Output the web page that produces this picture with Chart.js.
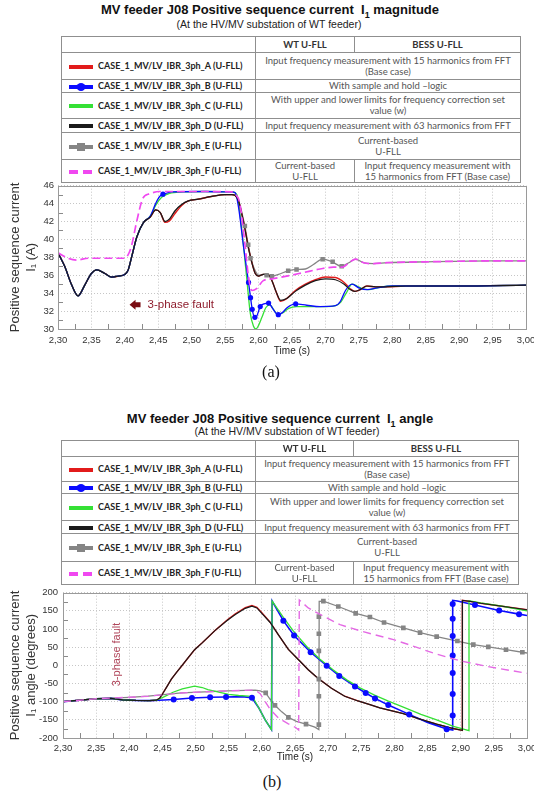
<!DOCTYPE html>
<html>
<head>
<meta charset="utf-8">
<script src="https://cdn.jsdelivr.net/npm/chart.js@4.4.1/dist/chart.umd.min.js"></script>
<style>
  body { margin: 0; width: 534px; height: 796px; overflow: hidden; background: #fff; position: relative; font-family: "Liberation Sans", Arial, sans-serif; }
  .title { position: absolute; transform: translateX(-50%); font-weight: bold; font-size: 13px; color: #111; white-space: nowrap; }
  .title sub { font-size: 9px; }
  .sub { position: absolute; transform: translateX(-50%); font-size: 10.5px; color: #222; white-space: nowrap; }
  .cap { position: absolute; transform: translateX(-50%); font-family: "Liberation Serif", "Times New Roman", serif; font-size: 16px; color: #111; }
  table.leg { position: absolute; border-collapse: collapse; table-layout: fixed; font-family: Lato, "Open Sans", sans-serif; font-size: 9.5px; color: #555; }
  table.leg td { border: 1px solid #8f8f8f; text-align: center; padding: 0 2px; line-height: 11px; overflow: hidden; }
  table.leg td.nm { text-align: left; font-weight: bold; color: #222; padding-left: 6px; white-space: nowrap; font-size: 9px; }
  table.leg td.hd { font-weight: bold; color: #333; }
  .sw { display: inline-block; vertical-align: middle; margin-right: 4px; }
  canvas { position: absolute; left: 0; }
</style>
</head>
<body>

<div class="title" style="left:270px;top:2px">MV feeder J08 Positive sequence current&nbsp; I<sub>1</sub> magnitude</div>
<div class="sub" style="left:269px;top:18px">(At the HV/MV substation of WT feeder)</div>
<table class="leg" id="legA" style="left:61px;top:36px;width:459px"></table>
<canvas id="chartA" width="534" height="188" style="top:176px"></canvas>
<div class="cap" style="left:271px;top:363px">(a)</div>

<div class="title" style="left:280px;top:411px">MV feeder J08 Positive sequence current&nbsp; I<sub>1</sub> angle</div>
<div class="sub" style="left:287px;top:425px">(At the HV/MV substation of WT feeder)</div>
<table class="leg" id="legB" style="left:61px;top:440px;width:457px"></table>
<canvas id="chartB" width="534" height="188" style="top:582px"></canvas>
<div class="cap" style="left:272px;top:773px">(b)</div>

<script>
// ---------- legend table text ----------
const caseNames = ['CASE_1_MV/LV_IBR_3ph_A (U-FLL)', 'CASE_1_MV/LV_IBR_3ph_B (U-FLL)', 'CASE_1_MV/LV_IBR_3ph_C (U-FLL)',
  'CASE_1_MV/LV_IBR_3ph_D (U-FLL)', 'CASE_1_MV/LV_IBR_3ph_E (U-FLL)', 'CASE_1_MV/LV_IBR_3ph_F (U-FLL)'];
const bothText = ['Input frequency measurement with 15 harmonics from FFT<br>(Base case)', 'With sample and hold \u2013logic',
  'With upper and lower limits for frequency correction set<br>value (w)', 'Input frequency measurement with 63 harmonics from FFT',
  'Current-based<br>U-FLL'];
const wtTextF = 'Current-based<br>U-FLL';
const bessTextF = 'Input frequency measurement with<br>15 harmonics from FFT (Base case)';

// ---------- (a) I1 magnitude (A) ----------
const magA_t = [2.300,2.310,2.320,2.330,2.340,2.350,2.358,2.370,2.380,2.390,2.400,2.405,2.410,2.418,2.428,2.438,2.446,2.453,2.460,2.467,2.475,2.485,2.495,2.510,2.530,2.550,2.560,2.565,2.570,2.575,2.580,2.585,2.590,2.595,2.600,2.607,2.614,2.620,2.626,2.633,2.642,2.655,2.670,2.685,2.700,2.715,2.728,2.737,2.744,2.752,2.762,2.775,2.790,2.820,2.900,3.000];
const magA_v = [38.5,37.0,35.0,33.7,34.9,36.2,36.6,36.2,35.8,35.9,36.1,36.6,38.0,40.3,41.9,42.5,43.3,43.0,41.9,42.1,42.9,43.8,44.3,44.5,44.8,45.0,45.0,44.9,44.3,42.8,41.0,39.0,37.4,36.2,35.9,36.1,36.1,35.4,34.2,33.1,33.4,34.3,35.0,35.5,35.8,35.75,35.2,34.5,34.2,34.4,34.8,34.7,34.7,34.8,34.8,34.9];
const magD_t = magA_t;
const magD_v = [38.5,37.0,35.0,33.7,34.9,36.2,36.6,36.2,35.8,35.9,36.1,36.6,38.0,40.3,41.9,42.5,43.3,43.0,42.0,42.3,43.2,43.9,44.3,44.5,44.8,45.0,45.0,44.9,44.3,42.8,41.0,39.0,37.4,36.2,35.9,36.1,36.1,35.4,34.2,33.2,33.4,34.2,34.9,35.4,35.6,35.5,35.0,34.4,34.2,34.4,34.8,34.7,34.7,34.8,34.8,34.9];
const magB_t = [2.300,2.310,2.320,2.330,2.340,2.350,2.358,2.370,2.380,2.390,2.400,2.405,2.410,2.418,2.428,2.438,2.446,2.452,2.460,2.470,2.520,2.560,2.565,2.570,2.5775,2.585,2.588,2.5905,2.594,2.597,2.6025,2.608,2.615,2.621,2.629,2.635,2.643,2.6555,2.672,2.692,2.715,2.7225,2.730,2.740,2.750,2.7625,2.7775,2.800,2.900,3.000];
const magB_v = [38.5,37.0,35.0,33.7,34.9,36.2,36.6,36.2,35.8,35.9,36.1,36.6,38.0,40.3,41.9,42.6,44.0,44.8,45.1,45.3,45.35,45.3,45.2,43.6,39.2,35.2,33.5,32.2,31.3,31.4,32.5,32.8,32.9,32.3,31.6,31.8,32.4,32.8,32.65,32.5,32.6,33.1,34.3,35.0,34.6,34.4,34.6,34.8,34.8,34.9];
const magBmark_t = [2.4570,2.5850,2.5880,2.5905,2.5945,2.6025,2.6150,2.6295,2.6555];
const magBmark_v = [45.05,35.2,33.5,32.2,31.3,32.5,32.9,31.6,32.8];
const magC_t = [2.300,2.310,2.320,2.330,2.340,2.350,2.358,2.370,2.380,2.390,2.400,2.405,2.410,2.418,2.428,2.438,2.446,2.455,2.467,2.487,2.520,2.560,2.5675,2.575,2.5825,2.5875,2.5925,2.596,2.600,2.605,2.611,2.617,2.623,2.629,2.636,2.645,2.657,2.680,2.700,2.715,2.723,2.731,2.740,2.747,2.755,2.765,2.778,2.800,2.900,3.000];
const magC_v = [38.5,37.0,35.0,33.7,34.9,36.2,36.6,36.2,35.8,35.9,36.1,36.6,38.0,40.3,41.9,42.6,43.8,44.7,45.15,45.3,45.35,45.3,45.0,41.0,35.5,31.8,30.3,30.0,30.4,31.3,32.4,32.7,32.1,31.6,31.8,32.3,32.5,32.5,32.5,32.6,33.0,34.0,35.0,34.8,34.5,34.4,34.6,34.8,34.8,34.9];
const magE_t = [2.300,2.310,2.320,2.330,2.340,2.350,2.358,2.370,2.380,2.390,2.400,2.405,2.410,2.418,2.428,2.438,2.446,2.453,2.460,2.467,2.475,2.485,2.495,2.510,2.530,2.550,2.560,2.565,2.570,2.575,2.580,2.585,2.590,2.595,2.600,2.607,2.613,2.620,2.630,2.644,2.657,2.670,2.682,2.696,2.710,2.724,2.735,2.745,2.757,2.772,2.792,2.850,2.950,3.000];
const magE_v = [38.5,37.0,35.0,33.7,34.9,36.2,36.6,36.2,35.8,35.9,36.1,36.6,38.0,40.3,41.9,42.5,43.3,43.0,42.0,42.3,43.2,43.9,44.3,44.5,44.8,45.0,45.0,44.9,44.4,43.0,41.3,39.2,37.5,36.5,36.0,36.1,36.0,35.9,36.1,36.5,36.65,36.7,37.2,37.8,37.5,37.0,37.4,37.8,37.4,37.3,37.4,37.5,37.6,37.6];
const magEmark_t = [2.5795,2.5845,2.5880,2.6120,2.6200,2.6443,2.6568,2.6958,2.7108,2.7243];
const magEmark_v = [41.5,39.4,37.9,36.0,35.9,36.5,36.65,37.8,37.5,37.0];
const magF_t = [2.300,2.315,2.328,2.345,2.370,2.400,2.405,2.410,2.418,2.427,2.437,2.452,2.480,2.520,2.560,2.566,2.572,2.580,2.585,2.590,2.597,2.607,2.620,2.642,2.667,2.692,2.712,2.725,2.737,2.745,2.757,2.772,2.792,2.850,2.950,3.000];
const magF_v = [38.5,37.9,37.7,37.9,37.9,37.9,38.3,39.3,42.1,44.6,45.1,45.35,45.35,45.35,45.3,45.0,44.0,39.2,35.8,34.3,34.5,35.4,35.6,35.9,36.3,36.7,36.9,36.9,37.5,37.8,37.4,37.3,37.4,37.5,37.6,37.6];

// ---------- (b) I1 angle (degrees) ----------
const angD_t = [2.300,2.325,2.350,2.372,2.390,2.410,2.430,2.441,2.446,2.451,2.457,2.4635,2.471,2.4785,2.488,2.4985,2.510,2.5185,2.530,2.5485,2.560,2.575,2.585,2.5925,2.600,2.6125,2.625,2.640,2.655,2.670,2.685,2.705,2.725,2.745,2.763,2.778,2.8134,2.8385,2.8637,2.8888,2.9025,2.9025,2.914,2.930,2.965,3.000];
const angD_v = [-100,-96,-92,-91,-95,-96.5,-97,-96,-90,-76,-58,-38,-20,-3,19,43,62,77,97,125,140,157,163,158,143,118,84,44,16,-12,-36,-63,-85,-98,-108,-117,-133,-148,-162,-174,-179,179,176,171,162,153];
const angA_t = angD_t;
const angA_v = [-100,-96,-92,-91,-95,-96.5,-97,-96,-90,-76,-58,-38,-20,-3,19,43,62,77,97,126,142,159,165,160,145,119,84,44,16,-12,-36,-63,-85,-98,-108,-117,-133,-148,-162,-174,-179,179,176,171,162,153];
const angB_t = [2.300,2.325,2.350,2.372,2.390,2.410,2.430,2.445,2.467,2.4945,2.522,2.546,2.570,2.585,2.595,2.605,2.6145,2.6155,2.6324,2.6486,2.6736,2.6978,2.7168,2.7405,2.7566,2.7707,2.7907,2.8224,2.850,2.8788,2.8879,2.8879,2.8950,2.9215,2.958,2.988,3.000];
const angB_v = [-100,-96,-92,-91,-95,-96.5,-97,-96,-94,-90,-88,-87,-86,-89,-116,-150,-177,177,123,82,36,-1,-29,-58,-76,-91,-109,-135,-157,-175,-178,179,177,166,151,141,137];
const angBmark_t = [2.467,2.4945,2.522,2.546,2.585,2.6324,2.6486,2.6736,2.6978,2.7168,2.7405,2.7566,2.7707,2.7907,2.8224,2.8788,2.8879,2.8879,2.8879,2.8879,2.8879,2.8879,2.8879,2.9215,2.958,2.988];
const angBmark_v = [-94,-90,-88,-87,-89,123,82,36,-1,-29,-58,-76,-91,-109,-135,-176,-138,-79,-21,27,81,128,169,166,151,141];
const angC_t = [2.300,2.325,2.350,2.372,2.390,2.410,2.430,2.441,2.453,2.466,2.480,2.4985,2.510,2.5185,2.535,2.550,2.565,2.580,2.587,2.595,2.605,2.6145,2.6155,2.6324,2.6474,2.6676,2.6877,2.7078,2.728,2.748,2.770,2.790,2.8134,2.840,2.8637,2.889,2.9125,2.9125,2.930,2.965,3.000];
const angC_v = [-100,-96,-92,-91,-95,-96.5,-97,-96,-86,-74,-65,-57,-61,-67,-74,-80,-83,-85,-90,-116,-150,-177,177,132,95,52,17,-13,-40,-62,-82,-98,-115,-135,-150,-168,-180,178,172,162,150];
const angE_t = [2.300,2.325,2.350,2.372,2.400,2.4285,2.4785,2.5485,2.590,2.5975,2.6058,2.612,2.6198,2.630,2.640,2.652,2.6666,2.680,2.686,2.6865,2.6928,2.7153,2.7415,2.763,2.7843,2.8134,2.8386,2.8637,2.895,2.919,2.9416,2.9683,3.000];
const angE_v = [-100,-96,-92,-90,-88,-85,-76,-70,-68,-70,-76,-92,-110,-128,-143,-154,-162,-170,-177,176,177,162,143,133,118,103,90,79,67,57,51,43,34];
const angEmark_t = [2.6058,2.6198,2.640,2.6666,2.686,2.686,2.686,2.686,2.686,2.686,2.6928,2.7153,2.7415,2.763,2.7843,2.8134,2.8386,2.8637,2.895,2.919,2.9416,2.9683,2.993];
const angEmark_v = [-76,-110,-143,-162,-163,-85,-38,40,87,134,177,162,143,133,118,103,90,79,67,57,51,43,36];
const angF_t = [2.300,2.325,2.350,2.372,2.400,2.4285,2.4785,2.5485,2.590,2.5975,2.605,2.612,2.625,2.640,2.651,2.6555,2.6565,2.670,2.690,2.718,2.750,2.800,2.820,2.860,2.900,2.940,3.000];
const angF_v = [-100,-96,-92,-90,-88,-85,-76,-70,-68,-78,-100,-120,-145,-161,-171,-178,180,158,138,112,94,70,58,33,12,-3,-22];

// ---------- helpers ----------
const RED = '#e21b1b', BLUE = '#0b0bff', GREEN = '#35e035', BLACK = '#1a1a1a', GRAY = '#858585', MAG = '#f048f0';

function pts(t, v) { return t.map((x, i) => ({ x: x, y: v[i] })); }

function line(t, v, color, width, extra) {
  return Object.assign({ data: pts(t, v), showLine: true, borderColor: color, borderWidth: width, pointRadius: 0, fill: false }, extra || {});
}
function marks(t, v, color, style, r) {
  return { data: pts(t, v), showLine: false, pointStyle: style, pointRadius: r, backgroundColor: color, borderColor: color, borderWidth: 0 };
}

function swatch(i) {
  let s = '<svg class="sw" width="26" height="10">';
  if (i === 5) {
    s += '<rect x="1" y="3" width="9" height="4" fill="' + MAG + '"/><rect x="15" y="3" width="9" height="4" fill="' + MAG + '"/>';
  } else {
    const c = [RED, BLUE, GREEN, BLACK, GRAY][i];
    s += '<rect x="1" y="3" width="24" height="4" fill="' + c + '"/>';
    if (i === 1) s += '<ellipse cx="13" cy="5" rx="4.5" ry="4" fill="' + c + '"/>';
    if (i === 4) s += '<rect x="9" y="1" width="8" height="8" fill="' + c + '"/>';
  }
  return s + '</svg>';
}

function buildTable(id, heights, cols) {
  let h = '<colgroup>' + cols.map(w => '<col style="width:' + w + 'px">').join('') + '</colgroup>';
  h += '<tr style="height:' + heights[0] + 'px"><td></td><td class="hd">WT U-FLL</td><td class="hd">BESS U-FLL</td></tr>';
  caseNames.forEach((n, i) => {
    h += '<tr style="height:' + heights[i + 1] + 'px"><td class="nm">' + swatch(i) + n + '</td>';
    if (i < 5) h += '<td colspan="2">' + bothText[i] + '</td>';
    else h += '<td>' + wtTextF + '</td><td>' + bessTextF + '</td>';
    h += '</tr>';
  });
  document.getElementById(id).innerHTML = h;
}
buildTable('legA', [16, 27, 12, 26.5, 13.5, 27.4, 22.6], [194, 99, 166]);
buildTable('legB', [16, 24.5, 12, 27.3, 12.9, 27.2, 23.6], [194, 98, 165]);

// frame, minor ticks and the fault note
const framePlugin = {
  id: 'frame',
  afterDatasetsDraw(chart) {
    const { ctx, chartArea: a, scales: { x, y } } = chart;
    ctx.save();
    ctx.strokeStyle = '#8a8a8a';
    ctx.lineWidth = 1;
    ctx.beginPath();
    for (let i = 0; i < x.ticks.length - 1; i++) {
      const px = Math.round(x.getPixelForValue((x.ticks[i].value + x.ticks[i + 1].value) / 2)) + 0.5;
      ctx.moveTo(px, a.bottom); ctx.lineTo(px, a.bottom - 5);
    }
    for (let i = 0; i < y.ticks.length - 1; i++) {
      const py = Math.round(y.getPixelForValue((y.ticks[i].value + y.ticks[i + 1].value) / 2)) + 0.5;
      ctx.moveTo(a.left, py); ctx.lineTo(a.left + 5, py);
    }
    ctx.stroke();
    ctx.strokeStyle = '#9a9a9a';
    ctx.strokeRect(Math.round(a.left) + 0.5, Math.round(a.top) + 0.5, Math.round(a.width), Math.round(a.height));

    const f = chart.options.plugins.fault;
    if (f) {
      const px = x.getPixelForValue(f.t), py = y.getPixelForValue(f.v);
      ctx.fillStyle = f.color;
      ctx.font = f.size + 'px "Liberation Sans", Arial, sans-serif';
      if (f.vertical) {
        ctx.translate(px, py);
        ctx.rotate(-Math.PI / 2);
        ctx.textAlign = 'center';
        ctx.textBaseline = 'middle';
        ctx.fillText(f.text, 0, 0);
      } else {
        ctx.fillStyle = '#7a0c12';
        ctx.beginPath();
        ctx.moveTo(px, py); ctx.lineTo(px + 6, py - 5); ctx.lineTo(px + 6, py - 2.5); ctx.lineTo(px + 11, py - 2.5);
        ctx.lineTo(px + 11, py + 2.5); ctx.lineTo(px + 6, py + 2.5); ctx.lineTo(px + 6, py + 5); ctx.closePath();
        ctx.fill();
        ctx.fillStyle = f.color;
        ctx.textAlign = 'left';
        ctx.textBaseline = 'middle';
        ctx.fillText(f.text, px + 18, py);
      }
    }
    ctx.restore();
  }
};

function makeChart(id, cfg) {
  return new Chart(document.getElementById(id), {
    type: 'scatter',
    data: { datasets: cfg.datasets },
    options: {
      animation: false,
      responsive: false,
      events: [],
      layout: { padding: { top: cfg.padTop, right: cfg.padRight, left: 0, bottom: 0 } },
      plugins: { legend: { display: false }, tooltip: { enabled: false }, fault: cfg.fault },
      scales: {
        x: {
          type: 'linear', min: 2.3, max: 3.0,
          grid: { color: '#c6c6c6', drawTicks: false },
          border: { display: false, dash: [1, 2] },
          ticks: {
            stepSize: 0.05, autoSkip: false, maxRotation: 0, padding: cfg.xPad, color: '#333',
            font: { size: 9.5, family: '"Liberation Sans", Arial, sans-serif' },
            callback: v => v.toFixed(2).replace('.', ',')
          },
          title: { display: true, text: 'Time (s)', color: '#222', padding: { top: 0, bottom: 7 },
            font: { size: 10, family: '"Liberation Sans", Arial, sans-serif' } },
          afterFit: s => { s.height = cfg.xH; s.paddingLeft = 0; s.paddingRight = 0; }
        },
        y: {
          min: cfg.yMin, max: cfg.yMax,
          grid: { color: '#c6c6c6', drawTicks: false },
          border: { display: false, dash: [1, 2] },
          ticks: { stepSize: cfg.yStep, padding: cfg.yPad, color: '#333',
            font: { size: 9.5, family: '"Liberation Sans", Arial, sans-serif' } },
          title: { display: true, text: cfg.yTitle, color: '#333', padding: { top: 6.5, bottom: 0 },
            font: { size: 13, lineHeight: 1.3, family: '"Liberation Sans", Arial, sans-serif' } },
          afterFit: s => { s.width = cfg.yW; }
        }
      }
    },
    plugins: [framePlugin]
  });
}

// (a) magnitude
makeChart('chartA', {
  padTop: 7, padRight: 8, xH: 35, xPad: 6, yW: 58, yPad: 4,
  yMin: 30, yMax: 46, yStep: 2,
  yTitle: ['Positive sequence current', 'I\u2081 (A)'],
  fault: { t: 2.407, v: 32.7, text: '3-phase fault', color: '#8e1c2c', size: 11.5 },
  datasets: [
    line(magF_t, magF_v, MAG, 1.7, { borderDash: [8, 4], cubicInterpolationMode: 'monotone' }),
    marks(magBmark_t, magBmark_v, BLUE, 'circle', 2.6),
    marks(magEmark_t, magEmark_v, GRAY, 'rect', 3.2),
    line(magD_t, magD_v, BLACK, 1.2, { cubicInterpolationMode: 'monotone' }),
    line(magB_t, magB_v, BLUE, 1.3, { cubicInterpolationMode: 'monotone' }),
    line(magC_t, magC_v, GREEN, 1.3, { cubicInterpolationMode: 'monotone' }),
    line(magA_t, magA_v, RED, 1.4, { cubicInterpolationMode: 'monotone' }),
    line(magE_t, magE_v, GRAY, 1.3, { cubicInterpolationMode: 'monotone' })
  ]
});

// (b) angle
makeChart('chartB', {
  padTop: 5, padRight: 7, xH: 32, xPad: 5, yW: 63, yPad: 5,
  yMin: -200, yMax: 200, yStep: 50,
  yTitle: ['Positive sequence current', 'I\u2081 angle (degrees)'],
  fault: { t: 2.381, v: 30, text: '3-phase fault', color: '#b0455a', size: 11, vertical: true },
  datasets: [
    line(angF_t, angF_v, '#e46ae4', 1.4, { borderDash: [8, 5] }),
    marks(angBmark_t, angBmark_v, BLUE, 'circle', 3),
    marks(angEmark_t, angEmark_v, GRAY, 'rect', 3.3),
    line(angD_t, angD_v, BLACK, 1.2),
    line(angC_t, angC_v, GREEN, 1.3),
    line(angB_t, angB_v, BLUE, 1.6),
    line(angA_t, angA_v, RED, 1.4),
    line(angE_t, angE_v, GRAY, 1.3)
  ]
});
</script>
</body>
</html>
